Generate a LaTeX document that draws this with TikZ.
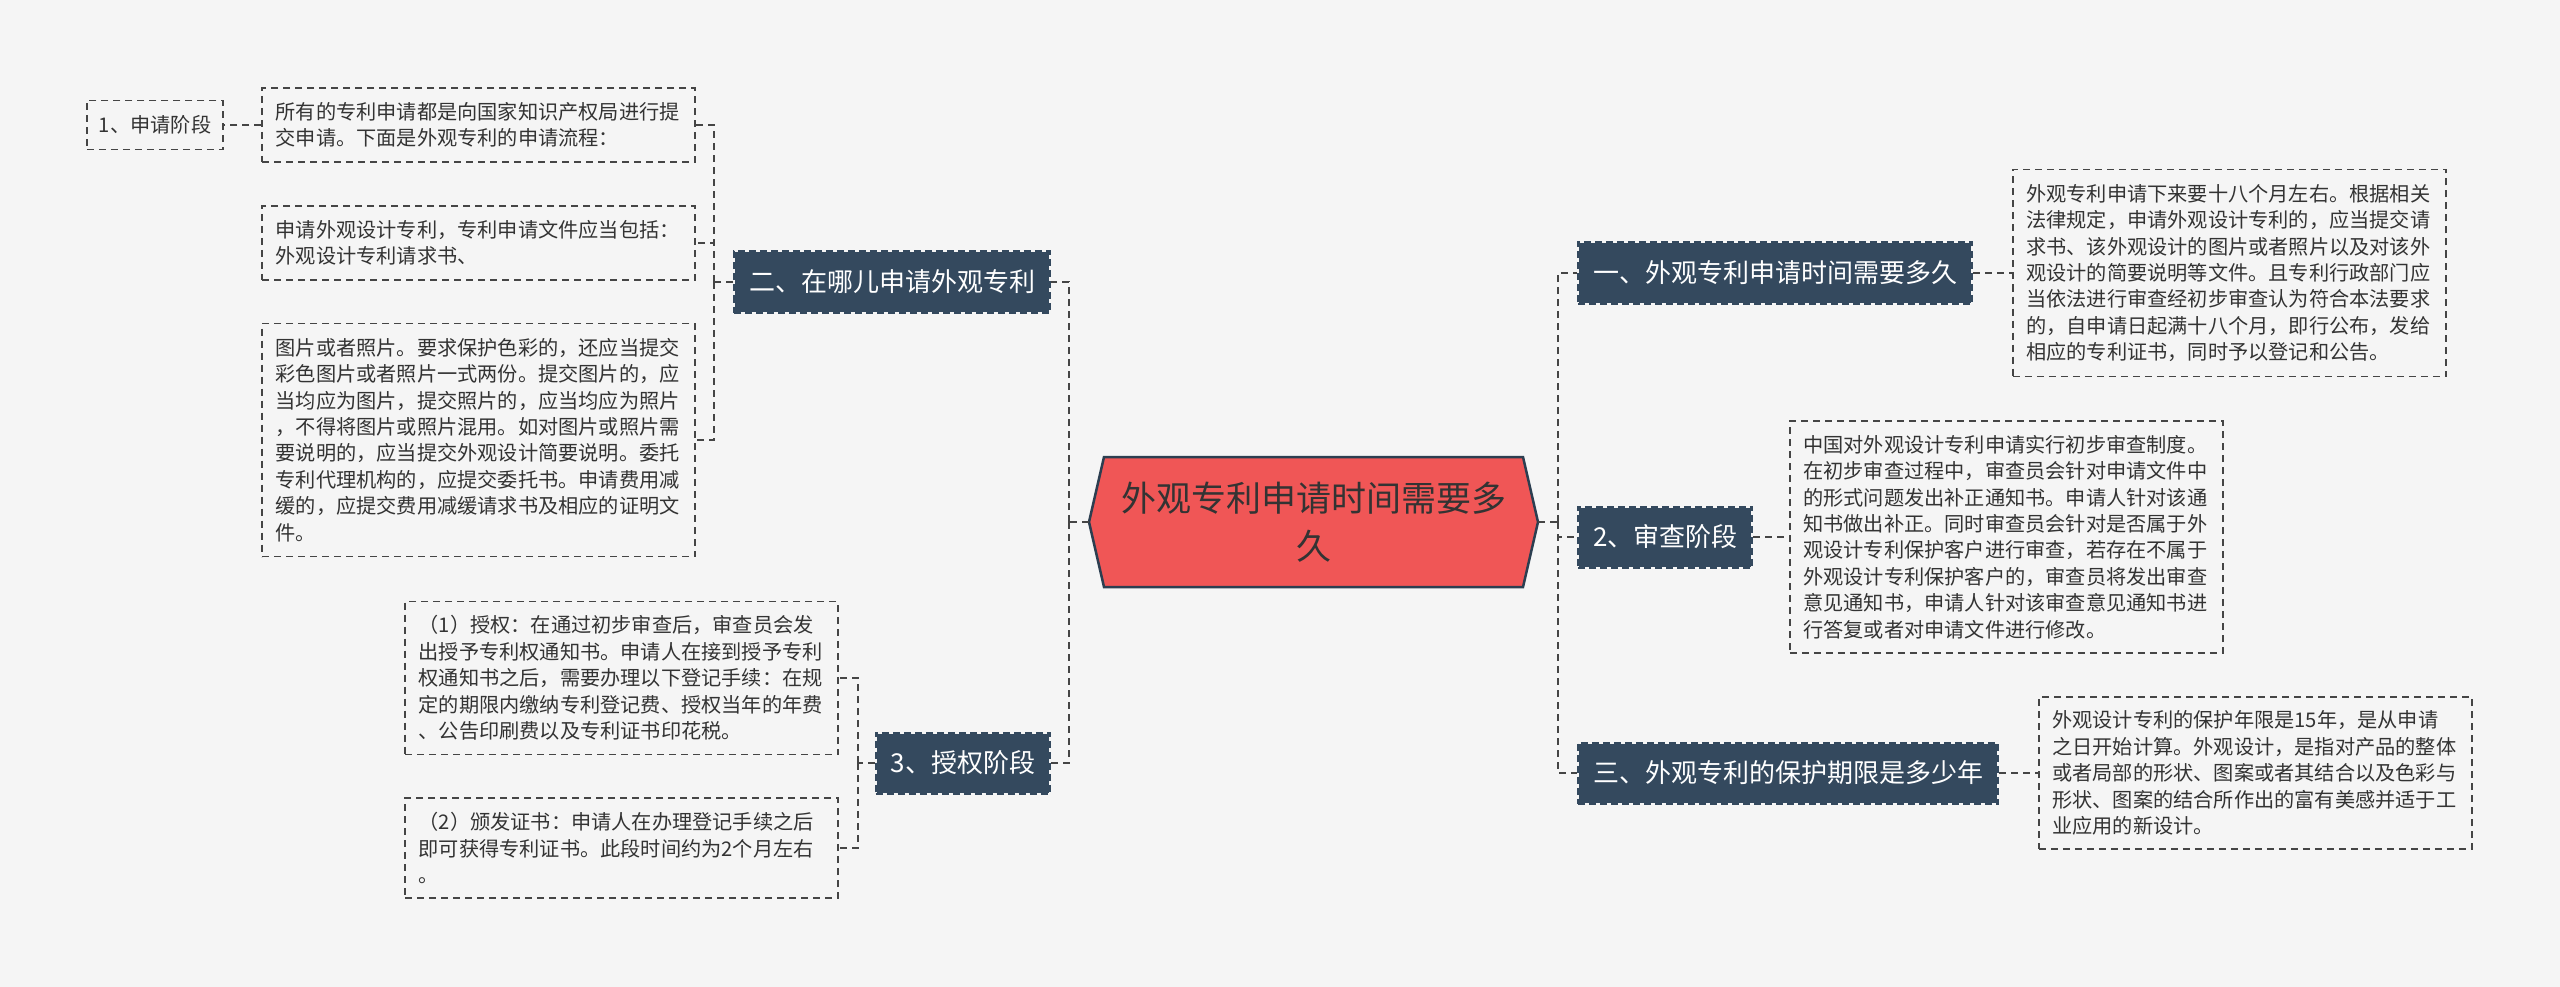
\documentclass[tikz,border=0pt]{standalone}
\usepackage{fontspec}
\newfontfamily\cjk{Noto Sans CJK SC}
\definecolor{bg}{HTML}{F5F5F5}
\definecolor{navy}{HTML}{34495E}
\definecolor{hexred}{HTML}{F05656}
\definecolor{hexline}{HTML}{2C3E50}
\definecolor{txt}{HTML}{333333}
\definecolor{lnk}{HTML}{454545}
\begin{document}
\begin{tikzpicture}[x=1pt,y=-1pt,
  leaf/.style={draw=lnk, dash pattern=on 7pt off 5pt, line width=1.6pt, fill=bg, text=txt,
    align=left, text width=406pt, inner xsep=13.5pt, inner ysep=0pt,
    font=\cjk\fontsize{20.2}{26.4}\selectfont},
  tagbox/.style={draw=lnk, dash pattern=on 7pt off 5pt, line width=1.6pt, fill=bg, text=txt,
    inner xsep=12pt, minimum height=49pt, font=\cjk\fontsize{20.2}{26.4}\selectfont},
  branch/.style={draw=navy, dash pattern=on 7pt off 4pt, line width=2pt,
    preaction={fill=navy, draw=bg, solid}, text=white, inner xsep=15pt,
    minimum height=61pt, font=\cjk\fontsize{26}{30}\selectfont},
  conn/.style={draw=lnk, line width=1.8pt, dash pattern=on 7pt off 5pt},
]
\path[use as bounding box, fill=bg] (0,0) rectangle (2560,987);

% central topic
\filldraw[fill=hexred, draw=hexline, line width=2.5pt]
  (1089,522) -- (1104,457) -- (1523,457) -- (1538,522) -- (1523,587) -- (1104,587) -- cycle;
\node[minimum width=449pt, minimum height=130pt, align=center, text=txt,
  font=\cjk\fontsize{35}{48}\selectfont] (root) at (1313.5,522) {外观专利申请时间需要多\\久};

% branches
\node[branch, anchor=west] (b1) at (1577,273) {一、外观专利申请时间需要多久};
\node[branch, anchor=west] (b2) at (1577,537) {2、审查阶段};
\node[branch, anchor=west] (b3) at (1577,773) {三、外观专利的保护期限是多少年};
\node[branch, anchor=east] (b4) at (1051,282) {二、在哪儿申请外观专利};
\node[branch, anchor=east] (b5) at (1051,763) {3、授权阶段};

% right leaves
\node[leaf, anchor=west, minimum height=207pt] (l1) at (2012,273) {外观专利申请下来要十八个月左右。根据相关\\
法律规定，申请外观设计专利的，应当提交请\\
求书、该外观设计的图片或者照片以及对该外\\
观设计的简要说明等文件。且专利行政部门应\\
当依法进行审查经初步审查认为符合本法要求\\
的，自申请日起满十八个月，即行公布，发给\\
相应的专利证书，同时予以登记和公告。};
\node[leaf, anchor=west, minimum height=232pt] (l2) at (1789,537) {中国对外观设计专利申请实行初步审查制度。\\
在初步审查过程中，审查员会针对申请文件中\\
的形式问题发出补正通知书。申请人针对该通\\
知书做出补正。同时审查员会针对是否属于外\\
观设计专利保护客户进行审查，若存在不属于\\
外观设计专利保护客户的，审查员将发出审查\\
意见通知书，申请人针对该审查意见通知书进\\
行答复或者对申请文件进行修改。};
\node[leaf, anchor=west, minimum height=152pt] (l3) at (2038,773) {外观设计专利的保护年限是15年，是从申请\\
之日开始计算。外观设计，是指对产品的整体\\
或者局部的形状、图案或者其结合以及色彩与\\
形状、图案的结合所作出的富有美感并适于工\\
业应用的新设计。};

% left leaves
\node[leaf, anchor=east, minimum height=74pt] (la) at (696,125) {所有的专利申请都是向国家知识产权局进行提\\
交申请。下面是外观专利的申请流程：};
\node[leaf, anchor=east, minimum height=74pt] (lb) at (696,243) {申请外观设计专利，专利申请文件应当包括：\\
外观设计专利请求书、};
\node[leaf, anchor=east, minimum height=233pt] (lc) at (696,440) {图片或者照片。要求保护色彩的，还应当提交\\
彩色图片或者照片一式两份。提交图片的，应\\
当均应为图片，提交照片的，应当均应为照片\\
，不得将图片或照片混用。如对图片或照片需\\
要说明的，应当提交外观设计简要说明。委托\\
专利代理机构的，应提交委托书。申请费用减\\
缓的，应提交费用减缓请求书及相应的证明文\\
件。};
\node[leaf, anchor=east, minimum height=153pt] (ld) at (839,678) {（1）授权：在通过初步审查后，审查员会发\\
出授予专利权通知书。申请人在接到授予专利\\
权通知书之后，需要办理以下登记手续：在规\\
定的期限内缴纳专利登记费、授权当年的年费\\
、公告印刷费以及专利证书印花税。};
\node[leaf, anchor=east, minimum height=100pt] (le) at (839,848) {（2）颁发证书：申请人在办理登记手续之后\\
即可获得专利证书。此段时间约为2个月左右\\
。};
\node[tagbox, anchor=east] (s1) at (224,125) {1、申请阶段};

% connectors right
\coordinate (rj) at (1558,522);
\draw[conn] (root.east) -- (rj);
\draw[conn] (rj) |- (b1.west);
\draw[conn] (rj) |- (b2.west);
\draw[conn] (rj) |- (b3.west);
\draw[conn] (b1.east) -- (l1.west);
\draw[conn] (b2.east) -- (l2.west);
\draw[conn] (b3.east) -- (l3.west);

% connectors left
\coordinate (lj) at (1069,522);
\draw[conn] (root.west) -- (lj);
\draw[conn] (lj) |- (b4.east);
\draw[conn] (lj) |- (b5.east);

\coordinate (j4) at (714,282);
\draw[conn] (b4.west) -- (j4);
\draw[conn] (j4) |- (la.east);
\draw[conn] (j4) |- (lb.east);
\draw[conn] (j4) |- (lc.east);

\coordinate (j5) at (858,763);
\draw[conn] (b5.west) -- (j5);
\draw[conn] (j5) |- (ld.east);
\draw[conn] (j5) |- (le.east);

\draw[conn] (la.west) -- (s1.east);
\end{tikzpicture}
\end{document}
